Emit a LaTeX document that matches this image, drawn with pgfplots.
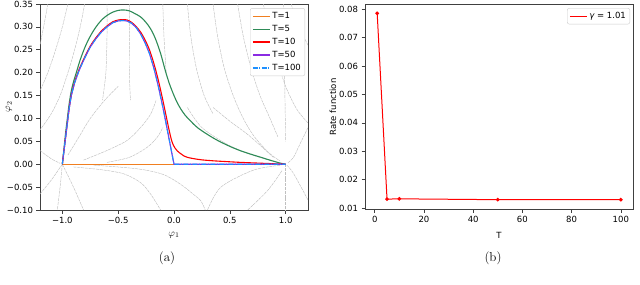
\documentclass[border=0pt]{standalone}
\usepackage{pgfplots}
\pgfplotsset{compat=1.18}
\usepackage{fontspec}
\newfontfamily\dv{DejaVu Sans}
\definecolor{corange}{HTML}{F07F20}
\definecolor{cgreen}{HTML}{2E8B57}
\definecolor{cred}{HTML}{FF0000}
\definecolor{cpurple}{HTML}{8A2BE2}
\definecolor{cblue}{HTML}{1E90FF}
\pgfplotsset{
  myax/.style={scale only axis,
    axis line style={black!75, line width=0.6pt},
    tick style={black!75, line width=0.6pt},
    major tick length=3.5pt, tick align=outside, tick pos=left,
    ticklabel style={font=\dv\fontsize{8.5}{10}\selectfont},
    legend cell align=left,
    legend style={font=\dv\fontsize{8.5}{10}\selectfont, draw=black!20, rounded corners=2pt,
      fill=white, inner sep=2pt, row sep=1.2pt}},
  stream/.style={black!25, line width=0.45pt, smooth, forget plot, dash pattern=on 3pt off 0.8pt},
  limg/.style={legend image code/.code={\draw[#1, line width=1.1pt] (0pt,0pt) -- (17pt,0pt);}}
}
\begin{document}
\begin{tikzpicture}
\useasboundingbox (0pt,0pt) rectangle (640pt,284pt);
% ---------------- (a) ----------------
\begin{axis}[myax, at={(40pt,74pt)}, anchor=south west, width=268pt, height=206pt,
  xmin=-1.2, xmax=1.2, ymin=-0.1, ymax=0.35,
  xtick={-1,-0.5,0,0.5,1}, xticklabels={−1.0,−0.5,0.0,0.5,1.0},
  ytick={-0.1,-0.05,0,0.05,0.1,0.15,0.2,0.25,0.3,0.35},
  yticklabels={−0.10,−0.05,0.00,0.05,0.10,0.15,0.20,0.25,0.30,0.35},
  legend style={at={(0.989,0.98)}, anchor=north east}]
% stream lines
\addplot[stream] coordinates {(-1.13,0.35)(-1.16,0.31)(-1.2,0.26)};
\addplot[stream] coordinates {(-0.95,0.35)(-1.0,0.3)(-1.06,0.25)(-1.13,0.2)(-1.2,0.16)};
\addplot[stream] coordinates {(-0.8,0.35)(-0.84,0.3)(-0.89,0.25)(-0.95,0.2)(-1.02,0.15)(-1.1,0.11)(-1.2,0.075)};
\addplot[stream] coordinates {(-0.6,0.35)(-0.6,0.28)(-0.61,0.2)(-0.64,0.14)};
\addplot[stream] coordinates {(-0.4,0.35)(-0.4,0.27)(-0.4,0.2)(-0.39,0.14)};
\addplot[stream] coordinates {(-0.1,0.35)(-0.09,0.28)(-0.07,0.2)};
\addplot[stream] coordinates {(0.12,0.35)(0.15,0.28)(0.2,0.21)(0.27,0.15)(0.35,0.11)};
\addplot[stream] coordinates {(0.35,0.35)(0.39,0.28)(0.45,0.21)(0.53,0.15)(0.62,0.1)(0.72,0.06)(0.85,0.025)(0.95,0.007)};
\addplot[stream] coordinates {(0.57,0.35)(0.62,0.28)(0.69,0.21)(0.77,0.15)(0.86,0.1)(0.93,0.06)};
\addplot[stream] coordinates {(0.8,0.35)(0.85,0.29)(0.92,0.23)(1.0,0.17)(1.1,0.12)(1.2,0.09)};
\addplot[stream] coordinates {(1.05,0.35)(1.1,0.31)(1.2,0.26)};
\addplot[stream] coordinates {(0.98,0.35)(0.99,0.2)(1.0,0.05)};
\addplot[stream] coordinates {(-0.81,0.009)(-0.6,0.03)(-0.42,0.052)(-0.3,0.08)(-0.21,0.109)(-0.16,0.14)};
\addplot[stream] coordinates {(-0.6,0.004)(-0.4,0.015)(-0.24,0.037)(-0.15,0.059)(-0.1,0.08)};
\addplot[stream] coordinates {(-0.95,0.02)(-0.85,0.06)(-0.75,0.1)(-0.62,0.14)(-0.5,0.17)};
\addplot[stream] coordinates {(0.12,0.124)(0.25,0.08)(0.48,0.043)(0.7,0.02)(0.87,0.009)};
\addplot[stream] coordinates {(0.35,0.124)(0.5,0.094)(0.66,0.065)(0.8,0.035)(0.89,0.015)};
\addplot[stream] coordinates {(1.2,0.08)(1.12,0.04)(1.07,0.015)(1.02,0.003)};
\addplot[stream] coordinates {(-1,0)(-1.1,-0.035)(-1.2,-0.065)};
\addplot[stream] coordinates {(-1,0)(-1.02,-0.05)(-1.045,-0.1)};
\addplot[stream] coordinates {(-1,0)(-0.9,-0.05)(-0.81,-0.1)};
\addplot[stream] coordinates {(-0.9,-0.006)(-0.65,-0.012)(-0.45,-0.021)(-0.3,-0.04)(-0.21,-0.065)(-0.12,-0.1)};
\addplot[stream] coordinates {(-0.72,-0.002)(-0.33,-0.01)(-0.1,-0.022)(0.06,-0.044)(0.17,-0.065)(0.24,-0.08)(0.28,-0.1)};
\addplot[stream] coordinates {(0.3,-0.1)(0.42,-0.05)(0.71,-0.013)(0.96,-0.002)};
\addplot[stream] coordinates {(0.66,-0.1)(0.84,-0.057)(0.97,-0.013)};
\addplot[stream] coordinates {(1.2,-0.078)(1.07,-0.02)(1.01,-0.002)};
\addplot[stream] coordinates {(1.0,0)(1.0,-0.1)};
\addplot[stream] coordinates {(-1.2,0.03)(-1.1,0.012)(-1.02,0.002)};
% data curves
\addplot[corange, line width=1.1pt, limg=corange] coordinates {(-1,0)(1,0)};
\addlegendentry{T=1}
\addplot[cgreen, line width=1.1pt, smooth, limg=cgreen] coordinates {
(-1,0)(-0.985,0.035)(-0.97,0.07)(-0.955,0.1)(-0.94,0.13)(-0.92,0.16)(-0.9,0.18)(-0.875,0.2)
(-0.84,0.228)(-0.8,0.254)(-0.76,0.275)(-0.72,0.292)(-0.68,0.306)(-0.64,0.317)(-0.6,0.325)
(-0.55,0.332)(-0.5,0.336)(-0.45,0.337)(-0.4,0.335)(-0.35,0.329)(-0.3,0.322)(-0.255,0.311)
(-0.21,0.296)(-0.166,0.274)(-0.12,0.242)(-0.076,0.203)(-0.04,0.175)(0,0.15)(0.03,0.134)
(0.06,0.121)(0.1,0.107)(0.15,0.094)(0.21,0.08)(0.3,0.065)(0.39,0.052)(0.5,0.039)(0.6,0.029)
(0.7,0.021)(0.78,0.015)(0.85,0.0095)(0.9,0.006)(0.95,0.0025)(1,0)};
\addlegendentry{T=5}
\addplot[cred, line width=1.1pt, smooth, limg=cred] coordinates {
(-1,0)(-0.985,0.03)(-0.97,0.06)(-0.955,0.09)(-0.94,0.12)(-0.92,0.15)(-0.89,0.179)(-0.85,0.207)
(-0.8,0.234)(-0.75,0.258)(-0.7,0.276)(-0.65,0.291)(-0.6,0.302)(-0.55,0.311)(-0.5,0.315)
(-0.46,0.316)(-0.42,0.315)(-0.38,0.31)(-0.34,0.301)(-0.3,0.289)(-0.26,0.272)(-0.22,0.25)
(-0.18,0.22)(-0.14,0.183)(-0.1,0.14)(-0.07,0.105)(-0.045,0.076)(-0.025,0.055)(-0.01,0.044)
(0.01,0.035)(0.03,0.029)(0.06,0.023)(0.09,0.018)(0.12,0.015)(0.18,0.012)(0.25,0.0095)
(0.35,0.0075)(0.45,0.006)(0.6,0.004)(0.8,0.002)(1,0)};
\addlegendentry{T=10}
\addplot[cpurple, line width=1.1pt, limg=cpurple] coordinates {
(-1,0)(-0.985,0.03)(-0.97,0.06)(-0.955,0.09)(-0.94,0.12)(-0.92,0.15)(-0.89,0.178)(-0.85,0.205)
(-0.8,0.232)(-0.75,0.256)(-0.7,0.274)(-0.65,0.289)(-0.6,0.3)(-0.55,0.309)(-0.5,0.313)
(-0.46,0.314)(-0.42,0.313)(-0.38,0.308)(-0.34,0.299)(-0.3,0.285)(-0.26,0.266)(-0.22,0.242)
(-0.18,0.21)(-0.14,0.17)(-0.1,0.125)(-0.07,0.088)(-0.04,0.05)(-0.02,0.025)(0,0)(1,0)};
\addlegendentry{T=50}
\addplot[cblue, line width=1.1pt, dash pattern=on 5pt off 1.5pt on 1pt off 1.5pt,
  limg={cblue, dash pattern=on 5pt off 1.5pt on 1pt off 1.5pt}] coordinates {
(-1,0)(-0.985,0.03)(-0.97,0.06)(-0.955,0.09)(-0.94,0.12)(-0.92,0.15)(-0.89,0.178)(-0.85,0.205)
(-0.8,0.232)(-0.75,0.256)(-0.7,0.274)(-0.65,0.289)(-0.6,0.3)(-0.55,0.309)(-0.5,0.313)
(-0.46,0.314)(-0.42,0.313)(-0.38,0.308)(-0.34,0.299)(-0.3,0.285)(-0.26,0.266)(-0.22,0.242)
(-0.18,0.21)(-0.14,0.17)(-0.1,0.125)(-0.07,0.088)(-0.04,0.05)(-0.02,0.025)(0,0)(1,0)};
\addlegendentry{T=100}
\end{axis}
% ---------------- (b) ----------------
\begin{axis}[myax, at={(365pt,75pt)}, anchor=south west, width=268pt, height=205pt,
  xmin=-3.95, xmax=104.95, ymin=0.009615, ymax=0.081885,
  xtick={0,20,40,60,80,100}, xticklabels={0,20,40,60,80,100},
  ytick={0.01,0.02,0.03,0.04,0.05,0.06,0.07,0.08},
  yticklabels={0.01,0.02,0.03,0.04,0.05,0.06,0.07,0.08},
  legend style={at={(0.989,0.98)}, anchor=north east}]
\addplot[cred, line width=1pt, mark=*, mark size=1.3pt, limg=cred]
  coordinates {(1,0.0786)(5,0.0131)(10,0.0132)(50,0.0129)(100,0.0129)};
\addlegendentry{{\itshape γ} = 1.01}
\end{axis}
% labels
\node[rotate=90, font=\fontsize{10}{12}\selectfont] at (9pt,177pt) {$\varphi_2$};
\node[font=\fontsize{10}{12}\selectfont] at (174pt,49pt) {$\varphi_1$};
\node[rotate=90, font=\dv\fontsize{8.5}{10}\selectfont] at (333pt,177pt) {Rate function};
\node[font=\dv\fontsize{8.5}{10}\selectfont] at (499pt,49pt) {T};
\node[font=\fontsize{13}{15}\selectfont] at (167pt,26pt) {(a)};
\node[font=\fontsize{13}{15}\selectfont] at (493pt,26pt) {(b)};
\end{tikzpicture}
\end{document}
